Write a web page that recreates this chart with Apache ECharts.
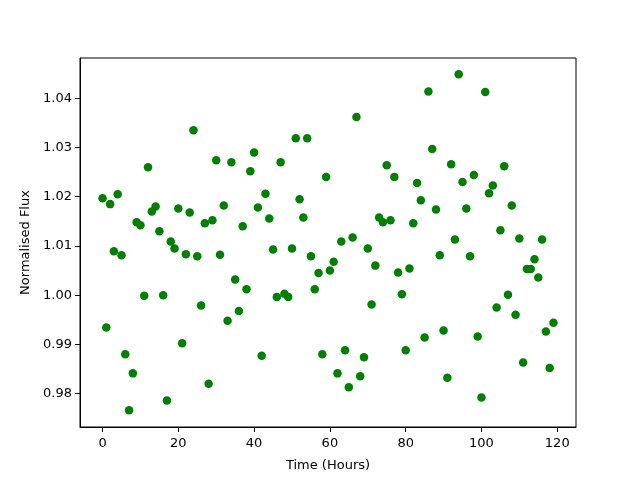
<!DOCTYPE html>
<html>
<head>
<meta charset="utf-8">
<script src="https://cdn.jsdelivr.net/npm/echarts@6/dist/echarts.min.js"></script>
<style>html,body{margin:0;padding:0;background:#fff}#c{width:640px;height:480px}</style>
</head>
<body>
<div id="c"></div>
<script>
const hours = Array.from({length:120}, (_, i) => i);
const flux = [
1.0197,0.9934,1.0185,1.0089,1.0205,1.0081,0.9880,0.9766,0.9841,1.0148,
1.0142,0.9999,1.0260,1.0170,1.0180,1.0130,1.0000,0.9786,1.0109,1.0095,
1.0176,0.9902,1.0083,1.0168,1.0335,1.0079,0.9979,1.0146,0.9820,1.0152,
1.0274,1.0082,1.0182,0.9948,1.0270,1.0032,0.9968,1.0140,1.0012,1.0252,
1.0290,1.0178,0.9877,1.0206,1.0156,1.0093,0.9996,1.0270,1.0003,0.9996,
1.0095,1.0319,1.0195,1.0158,1.0319,1.0079,1.0012,1.0045,0.9880,1.0240,
1.0050,1.0068,0.9841,1.0109,0.9888,0.9813,1.0117,1.0362,0.9835,0.9874,
1.0095,0.9981,1.0060,1.0158,1.0148,1.0264,1.0152,1.0240,1.0046,1.0002,
0.9888,1.0054,1.0146,1.0228,1.0193,0.9914,1.0414,1.0297,1.0174,1.0081,
0.9928,0.9832,1.0266,1.0113,1.0449,1.0230,1.0176,1.0079,1.0244,0.9916,
0.9792,1.0413,1.0207,1.0223,0.9975,1.0132,1.0262,1.0001,1.0182,0.9960,
1.0115,0.9863,1.0053,1.0053,1.0073,1.0036,1.0113,0.9926,0.9852,0.9944
];
const xTicks = [0,20,40,60,80,100,120];
const yTicks = [0.98,0.99,1.00,1.01,1.02,1.03,1.04];

const chart = echarts.init(document.getElementById('c'), null, {renderer:'canvas'});
const font = 'DejaVu Sans';
chart.setOption({
  animation:false,
  backgroundColor:'#ffffff',
  grid:{left:80,right:64,top:58,bottom:53,show:true,borderColor:'#000',borderWidth:1,backgroundColor:'transparent'},
  xAxis:{
    type:'value', min:-5.95, max:124.95,
    name:'Time (Hours)', nameLocation:'middle', nameGap:32,
    nameTextStyle:{fontFamily:font,fontSize:13,color:'#000'},
    axisLine:{show:true,onZero:false,lineStyle:{color:'#000',width:1}},
    axisTick:{show:true,inside:false,length:5,customValues:xTicks,lineStyle:{color:'#000'}},
    axisLabel:{customValues:xTicks,margin:10,fontFamily:font,fontSize:13,color:'#000'},
    splitLine:{show:false}
  },
  yAxis:{
    type:'value', min:0.9732, max:1.0482,
    name:'Normalised Flux', nameLocation:'middle', nameGap:47,
    nameTextStyle:{fontFamily:font,fontSize:13,color:'#000'},
    axisLine:{show:true,onZero:false,lineStyle:{color:'#000',width:1}},
    axisTick:{show:true,inside:false,length:5,customValues:yTicks,lineStyle:{color:'#000'}},
    axisLabel:{customValues:yTicks,margin:8,fontFamily:font,fontSize:13,color:'#000',formatter:v=>v.toFixed(2)},
    splitLine:{show:false}
  },
  series:[{
    type:'scatter',
    data:hours.map((h,i)=>[h,flux[i]]),
    symbol:'circle', symbolSize:8.5,
    itemStyle:{color:'#008000',opacity:1}
  }]
});
</script>
</body>
</html>
